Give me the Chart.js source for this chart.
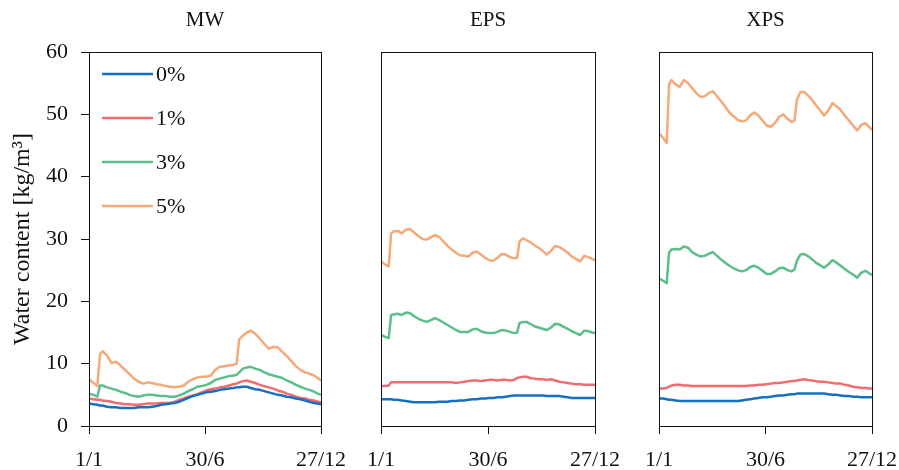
<!DOCTYPE html>
<html>
<head>
<meta charset="utf-8">
<title>Water content</title>
<script src="https://cdn.jsdelivr.net/npm/chart.js@4.4.1/dist/chart.umd.min.js"></script>
<style>
  html, body { margin: 0; background: #fff; overflow: hidden; }
  #wrap { position: relative; width: 899px; height: 470px; overflow: hidden; }
  #wrap canvas { position: absolute; left: 0; top: 0; }
</style>
</head>
<body>
<div id="wrap">
  <canvas id="mwChart" width="940" height="470"></canvas>
  <canvas id="epsChart" width="940" height="470"></canvas>
  <canvas id="xpsChart" width="940" height="470"></canvas>
</div>
<script>
// day of year for each sample
const days = [
  1, 8, 14, 18, 22, 29, 36, 43, 50, 57, 64,
  71, 78, 85, 92, 99, 106, 113, 120, 127, 134, 141,
  148, 155, 162, 169, 176, 183, 190, 197, 204, 211, 218,
  225, 230, 234, 240, 246, 252, 259, 266, 273, 280, 287,
  294, 301, 308, 315, 322, 329, 336, 343, 350, 356, 361
];

const tickDays = [1, 181, 361];
const tickLabels = ['1/1', '30/6', '27/12'];

const seriesNames = ['0%', '1%', '3%', '5%'];
const seriesColors = ['#1570c0', '#f26b6e', '#5cbf8b', '#f5a979'];

// MW
const mw0 = [
  3.6, 3.5, 3.4, 3.3, 3.3, 3.1, 3.0, 3.0, 2.9, 2.9, 2.9,
  2.9, 3.0, 3.0, 3.0, 3.1, 3.2, 3.4, 3.5, 3.6, 3.7, 3.9,
  4.2, 4.5, 4.8, 5.0, 5.2, 5.4, 5.5, 5.6, 5.8, 5.9, 6.0,
  6.1, 6.2, 6.2, 6.3, 6.3, 6.1, 5.9, 5.8, 5.6, 5.4, 5.2,
  5.0, 4.9, 4.7, 4.6, 4.4, 4.3, 4.1, 3.9, 3.7, 3.6, 3.5
];
const mw1 = [
  4.4, 4.3, 4.2, 4.2, 4.1, 4.0, 3.9, 3.7, 3.6, 3.5, 3.5,
  3.4, 3.4, 3.5, 3.6, 3.6, 3.6, 3.7, 3.7, 3.7, 3.9, 4.2,
  4.4, 4.7, 4.9, 5.1, 5.4, 5.7, 5.9, 6.0, 6.2, 6.3, 6.5,
  6.7, 6.8, 7.0, 7.2, 7.3, 7.1, 6.9, 6.6, 6.4, 6.2, 6.0,
  5.7, 5.5, 5.2, 5.0, 4.7, 4.5, 4.4, 4.2, 4.1, 3.9, 3.8
];
const mw3 = [
  5.2, 5.0, 4.7, 6.5, 6.5, 6.2, 6.0, 5.8, 5.5, 5.3, 5.0,
  4.8, 4.7, 4.9, 5.0, 5.0, 4.9, 4.8, 4.8, 4.7, 4.7, 4.9,
  5.2, 5.6, 5.9, 6.3, 6.4, 6.6, 6.9, 7.4, 7.6, 7.8, 8.0,
  8.1, 8.2, 8.6, 9.2, 9.4, 9.5, 9.2, 9.0, 8.6, 8.3, 8.1,
  7.9, 7.7, 7.3, 7.0, 6.6, 6.3, 6.0, 5.8, 5.5, 5.2, 5.0
];
const mw5 = [
  7.5, 6.9, 6.4, 11.5, 12.0, 11.3, 10.1, 10.3, 9.7, 9.0, 8.3,
  7.6, 7.1, 6.8, 7.0, 6.9, 6.7, 6.6, 6.4, 6.3, 6.2, 6.3,
  6.5, 7.1, 7.5, 7.8, 7.9, 7.9, 8.1, 9.0, 9.5, 9.6, 9.7,
  9.8, 10.0, 13.9, 14.5, 15.0, 15.3, 14.8, 14.0, 13.2, 12.4, 12.7,
  12.6, 11.9, 11.2, 10.4, 9.6, 9.0, 8.6, 8.4, 8.1, 7.7, 7.3
];

// EPS
const eps0 = [
  4.3, 4.3, 4.3, 4.3, 4.2, 4.2, 4.1, 4.0, 3.9, 3.8, 3.8,
  3.8, 3.8, 3.8, 3.8, 3.9, 3.9, 3.9, 4.0, 4.0, 4.1, 4.1,
  4.2, 4.3, 4.3, 4.4, 4.4, 4.5, 4.5, 4.6, 4.6, 4.7, 4.8,
  4.9, 4.9, 4.9, 4.9, 4.9, 4.9, 4.9, 4.9, 4.9, 4.8, 4.8,
  4.8, 4.8, 4.7, 4.6, 4.5, 4.5, 4.5, 4.5, 4.5, 4.5, 4.5
];
const eps1 = [
  6.4, 6.4, 6.5, 7.0, 7.0, 7.0, 7.0, 7.0, 7.0, 7.0, 7.0,
  7.0, 7.0, 7.0, 7.0, 7.0, 7.0, 7.0, 7.0, 6.9, 7.0, 7.1,
  7.2, 7.3, 7.3, 7.2, 7.3, 7.4, 7.4, 7.3, 7.4, 7.4, 7.3,
  7.4, 7.7, 7.8, 7.9, 7.9, 7.7, 7.6, 7.5, 7.5, 7.4, 7.5,
  7.3, 7.1, 7.0, 6.9, 6.8, 6.7, 6.7, 6.6, 6.6, 6.6, 6.6
];
const eps3 = [
  14.6, 14.3, 14.1, 17.8, 17.9, 18.0, 17.8, 18.2, 18.1, 17.6, 17.2,
  16.9, 16.7, 17.0, 17.3, 17.0, 16.6, 16.2, 15.8, 15.4, 15.1, 15.1,
  15.1, 15.5, 15.6, 15.2, 15.0, 14.9, 14.9, 15.1, 15.4, 15.3, 15.1,
  14.9, 15.0, 16.5, 16.7, 16.7, 16.4, 16.0, 15.8, 15.6, 15.4, 15.8,
  16.4, 16.3, 15.9, 15.6, 15.2, 14.9, 14.6, 15.3, 15.2, 15.0, 14.9
];
const eps5 = [
  26.4, 25.9, 25.6, 30.9, 31.2, 31.3, 30.9, 31.5, 31.6, 31.0, 30.5,
  30.0, 29.9, 30.3, 30.6, 30.3, 29.6, 28.9, 28.3, 27.8, 27.4, 27.3,
  27.2, 27.8, 28.0, 27.5, 27.0, 26.6, 26.5, 27.0, 27.6, 27.5, 27.1,
  26.9, 27.0, 29.6, 30.1, 29.8, 29.5, 29.0, 28.6, 28.1, 27.5, 28.1,
  28.9, 28.7, 28.3, 27.8, 27.2, 26.8, 26.4, 27.3, 27.1, 26.8, 26.6
];

// XPS
const xps0 = [
  4.4, 4.4, 4.3, 4.2, 4.2, 4.1, 4.0, 4.0, 4.0, 4.0, 4.0,
  4.0, 4.0, 4.0, 4.0, 4.0, 4.0, 4.0, 4.0, 4.0, 4.0, 4.1,
  4.2, 4.3, 4.4, 4.5, 4.6, 4.6, 4.7, 4.8, 4.9, 4.9, 5.0,
  5.1, 5.1, 5.2, 5.2, 5.2, 5.2, 5.2, 5.2, 5.2, 5.2, 5.1,
  5.0, 5.0, 4.9, 4.8, 4.8, 4.7, 4.7, 4.6, 4.6, 4.6, 4.6
];
const xps1 = [
  6.0, 6.0, 6.1, 6.3, 6.5, 6.6, 6.6, 6.5, 6.5, 6.4, 6.4,
  6.4, 6.4, 6.4, 6.4, 6.4, 6.4, 6.4, 6.4, 6.4, 6.4, 6.4,
  6.4, 6.5, 6.5, 6.6, 6.6, 6.7, 6.8, 6.9, 6.9, 7.0, 7.1,
  7.2, 7.2, 7.3, 7.4, 7.5, 7.4, 7.3, 7.2, 7.1, 7.1, 7.0,
  6.9, 6.8, 6.8, 6.6, 6.5, 6.3, 6.2, 6.1, 6.1, 6.0, 6.0
];
const xps3 = [
  23.7, 23.3, 22.9, 27.8, 28.3, 28.4, 28.3, 28.8, 28.6, 27.9, 27.5,
  27.2, 27.3, 27.6, 27.9, 27.3, 26.7, 26.2, 25.7, 25.3, 25.0, 24.8,
  25.0, 25.5, 25.7, 25.4, 24.9, 24.4, 24.4, 24.8, 25.3, 25.4, 25.0,
  24.8, 25.1, 26.5, 27.5, 27.6, 27.3, 26.8, 26.2, 25.8, 25.4, 25.9,
  26.6, 26.2, 25.7, 25.2, 24.7, 24.3, 23.8, 24.6, 24.9, 24.5, 24.2
];
const xps5 = [
  47.0, 46.2, 45.4, 54.8, 55.5, 54.8, 54.4, 55.5, 55.0, 54.2, 53.4,
  52.8, 52.9, 53.4, 53.7, 52.9, 52.1, 51.2, 50.3, 49.7, 49.1, 48.9,
  49.0, 49.8, 50.3, 49.8, 49.0, 48.2, 48.0, 48.6, 49.6, 50.0, 49.3,
  48.8, 49.0, 52.3, 53.6, 53.6, 53.1, 52.4, 51.5, 50.7, 49.8, 50.6,
  51.8, 51.3, 50.7, 49.8, 49.0, 48.2, 47.4, 48.3, 48.6, 48.0, 47.5
];

const serif = "'Liberation Serif', 'Times New Roman', serif";
const ink = '#111';

// box around the plot area
const framePlugin = {
  id: 'frame',
  afterDatasetsDraw(chart) {
    const { ctx, chartArea: a } = chart;
    ctx.save();
    ctx.strokeStyle = ink;
    ctx.lineWidth = 1;
    ctx.strokeRect(Math.round(a.left) + 0.5, Math.round(a.top) + 0.5,
      Math.round(a.right - a.left), Math.round(a.bottom - a.top));
    ctx.restore();
  }
};

// panel name centred over the plot area
const panelTitlePlugin = {
  id: 'panelTitle',
  afterDraw(chart, args, opts) {
    const { ctx, chartArea: a } = chart;
    ctx.save();
    ctx.font = `21px ${serif}`;
    ctx.fillStyle = ink;
    ctx.textAlign = 'center';
    ctx.textBaseline = 'middle';
    ctx.fillText(opts.text, (a.left + a.right) / 2, 20);
    ctx.restore();
  }
};

// legend drawn inside the first panel
const innerLegendPlugin = {
  id: 'innerLegend',
  afterDraw(chart, args, opts) {
    if (!opts.show) return;
    const { ctx } = chart;
    ctx.save();
    ctx.font = `22px ${serif}`;
    ctx.textBaseline = 'middle';
    chart.data.datasets.forEach((ds, i) => {
      const y = 74 + i * 44;
      ctx.strokeStyle = ds.borderColor;
      ctx.lineWidth = 2.5;
      ctx.beginPath();
      ctx.moveTo(102, y);
      ctx.lineTo(153, y);
      ctx.stroke();
      ctx.fillStyle = ink;
      ctx.fillText(ds.label, 156, y + 1);
    });
    ctx.restore();
  }
};

function makeDatasets(seriesList) {
  return seriesList.map((vals, i) => ({
    label: seriesNames[i],
    data: days.map((d, j) => ({ x: d, y: vals[j] })),
    borderColor: seriesColors[i],
    borderWidth: 2.5,
    borderJoinStyle: 'round',
    pointRadius: 0,
    tension: 0,
    fill: false
  }));
}

function makePanel(canvasId, name, seriesList, pad, showY) {
  new Chart(document.getElementById(canvasId), {
    type: 'line',
    data: { datasets: makeDatasets(seriesList) },
    options: {
      responsive: false,
      animation: false,
      events: [],
      layout: { padding: pad },
      plugins: {
        legend: { display: false },
        tooltip: { enabled: false },
        panelTitle: { text: name },
        innerLegend: { show: showY }
      },
      scales: {
        x: {
          type: 'linear',
          min: tickDays[0],
          max: tickDays[tickDays.length - 1],
          afterBuildTicks: (scale) => {
            scale.ticks = tickDays.map(v => ({ value: v }));
          },
          afterFit: (scale) => { scale.height = 44; },
          ticks: {
            autoSkip: false,
            maxRotation: 0,
            padding: 13,
            color: ink,
            font: { family: serif, size: 22 },
            callback: (v) => tickLabels[tickDays.indexOf(v)]
          },
          grid: { drawOnChartArea: false, drawTicks: true, tickLength: 8, color: ink },
          border: { display: false }
        },
        y: {
          display: showY,
          min: 0,
          max: 60,
          afterFit: (scale) => { scale.width = showY ? 89 : 0; },
          ticks: {
            stepSize: 10,
            padding: 13,
            color: ink,
            font: { family: serif, size: 22 }
          },
          grid: { drawOnChartArea: false, drawTicks: true, tickLength: 8, color: ink },
          border: { display: false },
          title: {
            display: true,
            text: 'Water content [kg/m\u00b3]',
            color: ink,
            font: { family: serif, size: 24 },
            padding: { top: 8, bottom: 0 }
          }
        }
      }
    },
    plugins: [framePlugin, panelTitlePlugin, innerLegendPlugin]
  });
}

// canvases are 940 px wide; the page clips them at 899
makePanel('mwChart', 'MW', [mw0, mw1, mw3, mw5],
  { top: 52, right: 619, bottom: 0, left: 0 }, true);
makePanel('epsChart', 'EPS', [eps0, eps1, eps3, eps5],
  { top: 52, right: 345, bottom: 0, left: 381 }, false);
makePanel('xpsChart', 'XPS', [xps0, xps1, xps3, xps5],
  { top: 52, right: 68, bottom: 0, left: 659 }, false);
</script>
</body>
</html>
